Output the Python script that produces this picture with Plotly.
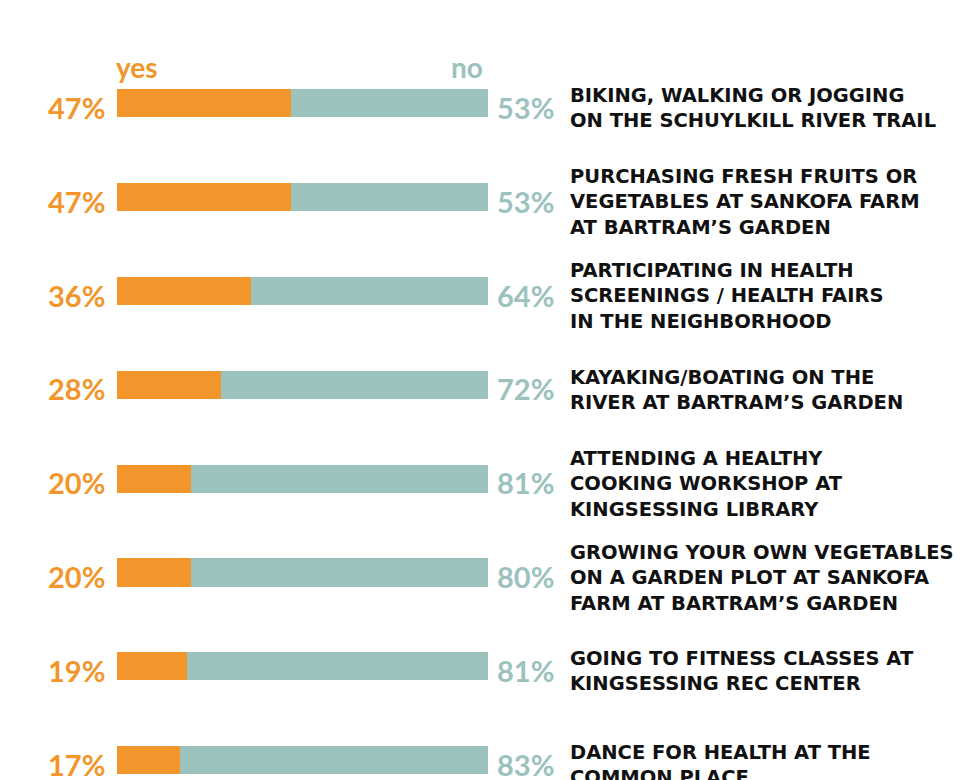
import plotly.graph_objects as go

categories = [
    "BIKING, WALKING OR JOGGING<br>ON THE SCHUYLKILL RIVER TRAIL",
    "PURCHASING FRESH FRUITS OR<br>VEGETABLES AT SANKOFA FARM<br>AT BARTRAM’S GARDEN",
    "PARTICIPATING IN HEALTH<br>SCREENINGS / HEALTH FAIRS<br>IN THE NEIGHBORHOOD",
    "KAYAKING/BOATING ON THE<br>RIVER AT BARTRAM’S GARDEN",
    "ATTENDING A HEALTHY<br>COOKING WORKSHOP AT<br>KINGSESSING LIBRARY",
    "GROWING YOUR OWN VEGETABLES<br>ON A GARDEN PLOT AT SANKOFA<br>FARM AT BARTRAM’S GARDEN",
    "GOING TO FITNESS CLASSES AT<br>KINGSESSING REC CENTER",
    "DANCE FOR HEALTH AT THE<br>COMMON PLACE",
]
yes_vals = [47, 47, 36, 28, 20, 20, 19, 17]
no_vals = [53, 53, 64, 72, 81, 80, 81, 83]
series_names = ["yes", "no"]

ORANGE = "#F2962B"
TEAL = "#9CC2BE"
DARK = "#111111"

idx = list(range(len(categories)))

fig = go.Figure()
fig.add_trace(go.Bar(y=idx, x=yes_vals, orientation="h", marker=dict(color=ORANGE, line=dict(width=0)),
                     width=0.3, name=series_names[0], hoverinfo="skip"))
fig.add_trace(go.Bar(y=idx, x=no_vals, orientation="h", marker=dict(color=TEAL, line=dict(width=0)),
                     width=0.3, name=series_names[1], hoverinfo="skip"))

annotations = []
for i, (c, yv, nv) in enumerate(zip(categories, yes_vals, no_vals)):
    annotations.append(dict(x=0, y=i, xref="x", yref="y", text=f"<b>{yv}%</b>", showarrow=False,
                            xanchor="right", yanchor="middle", xshift=-10, yshift=-4,
                            font=dict(family="Lato", size=29, color=ORANGE)))
    annotations.append(dict(x=100, y=i, xref="x", yref="y", text=f"<b>{nv}%</b>", showarrow=False,
                            xanchor="left", yanchor="middle", xshift=7, yshift=-4,
                            font=dict(family="Lato", size=29, color=TEAL)))
    annotations.append(dict(x=100, y=i, xref="x", yref="y", text=f"<b>{c}</b>", showarrow=False,
                            xanchor="left", yanchor="middle", align="left", xshift=80, yshift=-5,
                            font=dict(family="DejaVu Sans", size=19.5, color=DARK)))

annotations.append(dict(x=0, y=0, xref="x", yref="y", text=f"<b>{series_names[0]}</b>", showarrow=False,
                        xanchor="left", yanchor="middle", xshift=-3, yshift=36,
                        font=dict(family="Lato", size=28, color=ORANGE)))
annotations.append(dict(x=100, y=0, xref="x", yref="y", text=f"<b>{series_names[1]}</b>", showarrow=False,
                        xanchor="right", yanchor="middle", xshift=-3, yshift=36,
                        font=dict(family="Lato", size=28, color=TEAL)))

fig.update_layout(
    barmode="stack",
    width=964, height=780,
    margin=dict(l=109, r=484, t=39, b=9),
    paper_bgcolor="white", plot_bgcolor="white",
    showlegend=False,
    xaxis=dict(range=[0, 100], visible=False),
    yaxis=dict(range=[7.2, -0.6], visible=False),
    annotations=annotations,
)

fig.write_html("out.html")
